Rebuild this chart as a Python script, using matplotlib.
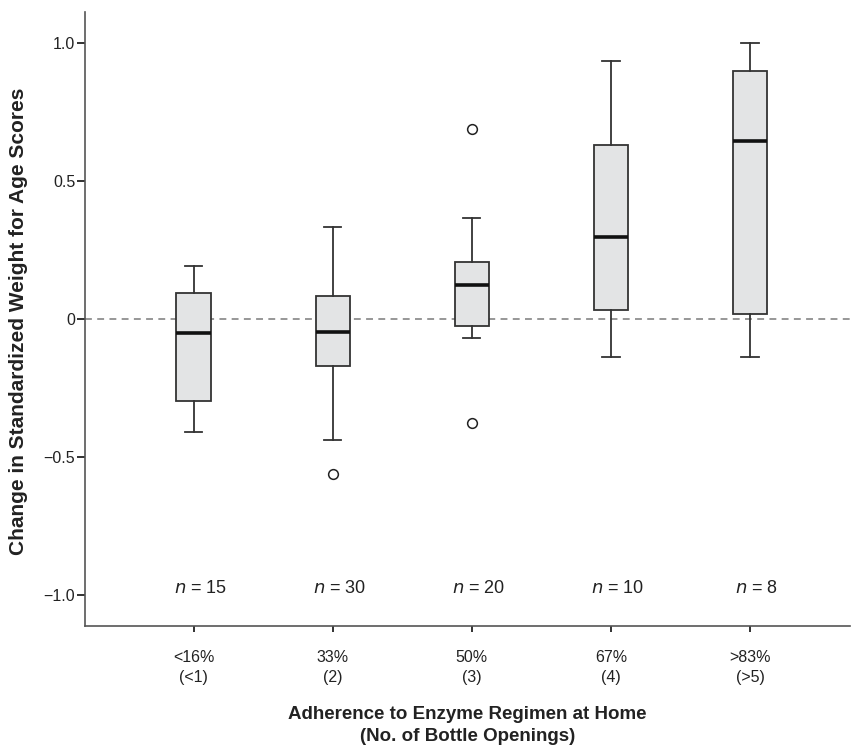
import matplotlib.pyplot as plt

plt.rcParams['font.family'] = ['Liberation Sans', 'DejaVu Sans']

# Adherence groups
categories = ["<16%\n(<1)", "33%\n(2)", "50%\n(3)", "67%\n(4)", ">83%\n(>5)"]
counts = [15, 30, 20, 10, 8]

# box statistics
whislo = [-0.409, -0.438, -0.069, -0.137, -0.137]
q1 = [-0.298, -0.170, -0.025, 0.033, 0.018]
med = [-0.050, -0.047, 0.125, 0.298, 0.644]
q3 = [0.095, 0.083, 0.207, 0.629, 0.899]
whishi = [0.192, 0.333, 0.367, 0.935, 1.000]
fliers = [[], [-0.563], [0.687, -0.378], [], []]

yticks = [-1.0, -0.5, 0, 0.5, 1.0]
ytick_labels = ["\u22121.0", "\u22120.5", "0", "0.5", "1.0"]

stats = []
for i in range(len(categories)):
    stats.append({
        "whislo": whislo[i], "q1": q1[i], "med": med[i],
        "q3": q3[i], "whishi": whishi[i], "fliers": fliers[i],
    })

fig = plt.figure(figsize=(8.52, 7.51), dpi=100)
ax = fig.add_axes([0.0998, 0.1664, 0.898, 0.8176])

edge = "#333333"
ax.axhline(0, color="#7a7a7a", lw=1.1, ls=(0, (4.5, 3.5)), zorder=1)

ax.bxp(stats, positions=range(len(categories)), widths=0.245,
       patch_artist=True, capwidths=0.125,
       boxprops=dict(facecolor="#e3e4e5", edgecolor=edge, lw=1.3),
       medianprops=dict(color="#111111", lw=2.6),
       whiskerprops=dict(color=edge, lw=1.3),
       capprops=dict(color=edge, lw=1.3),
       flierprops=dict(marker="o", markerfacecolor="white",
                       markeredgecolor="#222222", markersize=7, mew=1.1),
       zorder=3)

# sample sizes, sitting a little right of each box like the original
for i, n in enumerate(counts):
    ax.text(i + 0.05, -0.975, f"$\\it{{n}}$ = {n}", ha="center", va="center",
            fontsize=13, color="#222222")

ax.set_xlim(-0.78, 4.72)
ax.set_ylim(-1.112, 1.112)
ax.set_yticks(yticks)
ax.set_yticklabels(ytick_labels)
ax.set_xticks(range(len(categories)))
ax.set_xticklabels(categories, fontsize=11.5, color="#222222", linespacing=1.35)
ax.tick_params(axis="y", labelsize=11.5, colors="#222222", length=6, width=1.3, pad=1)
ax.tick_params(axis="x", length=4.5, width=1.3, pad=13, colors="#222222")

for s in ["top", "right"]:
    ax.spines[s].set_visible(False)
for s in ["left", "bottom"]:
    ax.spines[s].set_color("#555555")
    ax.spines[s].set_linewidth(1.2)

ax.set_ylabel("Change in Standardized Weight for Age Scores",
              fontsize=15, fontweight="bold", color="#222222")
ax.yaxis.set_label_coords(-0.074, 0.497, transform=ax.transAxes)
ax.set_xlabel("Adherence to Enzyme Regimen at Home\n(No. of Bottle Openings)",
              fontsize=13.5, fontweight="bold", color="#222222",
              linespacing=1.4)
ax.xaxis.set_label_coords(0.5, -0.13, transform=ax.transAxes)
ax.xaxis.label.set_va("top")

fig.savefig("out.png", dpi=100)
